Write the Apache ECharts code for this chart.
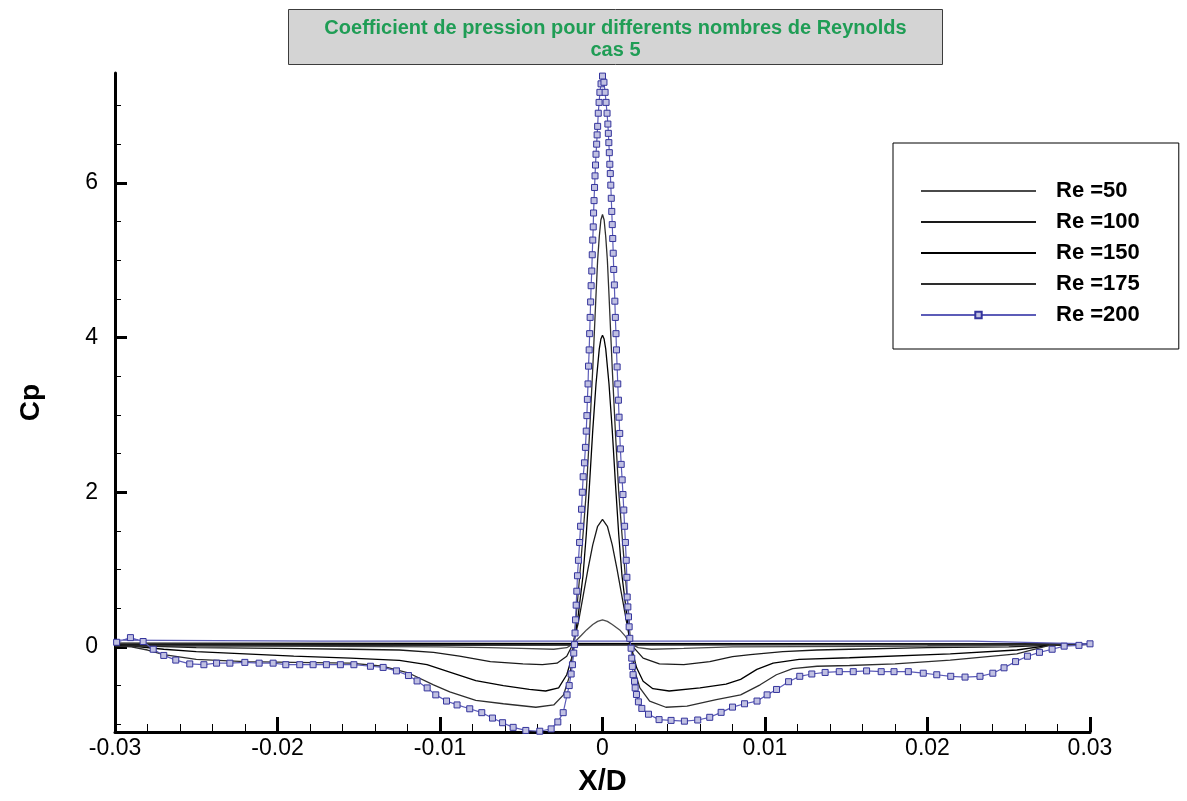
<!DOCTYPE html>
<html>
<head>
<meta charset="utf-8">
<script src="https://cdn.jsdelivr.net/npm/echarts@6/dist/echarts.min.js"></script>
<style>
html,body{margin:0;padding:0;background:#fff;}
#chart{width:1187px;height:801px;}
</style>
</head>
<body>
<div id="chart"></div>
<script>
// ---- tick values ----
const xMajorTicks = [-0.03, -0.02, -0.01, 0, 0.01, 0.02, 0.03];
const xMinorTicks = [-0.028, -0.026, -0.024, -0.022, -0.018, -0.016, -0.014, -0.012, -0.008, -0.006, -0.004, -0.002,
  0.002, 0.004, 0.006, 0.008, 0.012, 0.014, 0.016, 0.018, 0.022, 0.024, 0.026, 0.028];
const yMajorTicks = [0, 2, 4, 6];
const yMinorTicks = [-1, -0.5, 0.5, 1, 1.5, 2.5, 3, 3.5, 4.5, 5, 5.5, 6.5, 7];

// ---- series names ----
const seriesNames = ['Re =50', 'Re =100', 'Re =150', 'Re =175', 'Re =200'];

// ---- Re = 50 : [X/D, Cp] ----
const re50 = [[-0.03,0.02],[-0.02,0.01],[-0.01,0.0],[-0.007,-0.01],[-0.005,-0.02],[-0.003,-0.03],[-0.0022,-0.01],
  [-0.00181,0.04],[-0.0013,0.15],[-0.00098,0.22],[-0.0006,0.29],[-0.0003,0.33],[0,0.35],[0.0003,0.33],[0.0006,0.29],
  [0.00106,0.22],[0.0014,0.14],[0.00172,0.04],[0.0022,-0.01],[0.003,-0.03],[0.005,-0.02],[0.008,0.0],[0.02,0.01],[0.03,0.03],
  [-0.03,0.02]];

// ---- Re = 100 ----
const re100 = [[-0.03,0.03],[-0.028,0.01],[-0.025,-0.01],[-0.02,-0.02],[-0.0155,-0.03],[-0.0125,-0.04],[-0.0104,-0.07],
  [-0.0088,-0.12],[-0.0069,-0.19],[-0.0049,-0.22],[-0.0037,-0.23],[-0.0028,-0.21],[-0.0022,-0.12],[-0.00181,0.04],
  [-0.0015,0.3],[-0.0012,0.65],[-0.0009,1.0],[-0.0006,1.32],[-0.0003,1.56],[0,1.65],[0.0003,1.56],[0.0006,1.32],
  [0.0009,1.0],[0.0012,0.65],[0.0015,0.3],[0.00172,0.04],[0.0025,-0.145],[0.0035,-0.22],[0.005,-0.23],[0.0066,-0.19],
  [0.008,-0.125],[0.0091,-0.10],[0.0111,-0.06],[0.0132,-0.04],[0.0152,-0.03],[0.02,-0.01],[0.025,0.0],[0.03,0.04],
  [-0.03,0.03]];

// ---- Re = 150 ----
const re150 = [[-0.03,0.02],[-0.0285,0.0],[-0.027,-0.03],[-0.025,-0.06],[-0.022,-0.09],[-0.019,-0.12],[-0.0155,-0.145],
  [-0.0125,-0.175],[-0.0108,-0.23],[-0.0094,-0.325],[-0.0078,-0.435],[-0.0061,-0.50],[-0.0045,-0.55],[-0.0035,-0.57],
  [-0.0027,-0.53],[-0.0022,-0.36],[-0.0019,-0.145],[-0.00177,0.04],[-0.0015,0.4],[-0.0012,0.92],[-0.001,1.45],
  [-0.0008,2.1],[-0.0006,2.8],[-0.0004,3.4],[-0.0002,3.85],[-0.0001,3.98],[0,4.03],[0.0001,3.98],[0.0002,3.85],
  [0.0004,3.4],[0.0006,2.8],[0.0008,2.1],[0.001,1.45],[0.0012,0.92],[0.0015,0.4],[0.00172,0.04],[0.0021,-0.27],
  [0.0025,-0.445],[0.0031,-0.54],[0.0041,-0.57],[0.006,-0.53],[0.0076,-0.48],[0.0085,-0.42],[0.0095,-0.29],
  [0.0105,-0.21],[0.0121,-0.16],[0.0152,-0.14],[0.0214,-0.09],[0.0255,-0.04],[0.0275,0.02],[0.03,0.04],
  [-0.03,0.05]];

// ---- Re = 175 ----
const re175 = [[-0.03,0.01],[-0.029,0.0],[-0.028,-0.04],[-0.027,-0.1],[-0.025,-0.16],[-0.022,-0.19],[-0.019,-0.2],
  [-0.0155,-0.21],[-0.0135,-0.25],[-0.0119,-0.34],[-0.0104,-0.49],[-0.0094,-0.58],[-0.0078,-0.69],[-0.0061,-0.735],
  [-0.0041,-0.78],[-0.003,-0.75],[-0.0024,-0.62],[-0.002,-0.36],[-0.00177,0.04],[-0.0016,0.45],[-0.0014,0.92],
  [-0.0012,1.45],[-0.001,2.0],[-0.0008,2.75],[-0.0006,3.6],[-0.0004,4.55],[-0.0003,5.0],[-0.0002,5.3],[-0.0001,5.52],
  [0,5.59],[0.0001,5.52],[0.0002,5.3],[0.0003,5.0],[0.0004,4.55],[0.0006,3.6],[0.0008,2.75],[0.001,2.0],[0.0012,1.45],
  [0.0014,0.92],[0.0016,0.45],[0.00172,0.04],[0.002,-0.32],[0.0023,-0.53],[0.0029,-0.70],[0.0039,-0.78],[0.0052,-0.765],
  [0.007,-0.68],[0.0085,-0.62],[0.0097,-0.49],[0.0107,-0.36],[0.0117,-0.28],[0.0132,-0.25],[0.0152,-0.24],[0.018,-0.22],
  [0.0214,-0.17],[0.0255,-0.09],[0.0275,0.02],[0.03,0.04],
  [-0.03,0.01]];

// ---- Re = 200 (with markers) ----
const re200 = [[-0.0299,0.06],[-0.02905,0.12],[-0.02827,0.07],[-0.02765,-0.03],[-0.027,-0.11],[-0.02626,-0.17],
  [-0.0254,-0.22],[-0.02453,-0.23],[-0.02375,-0.21],[-0.02293,-0.21],[-0.02201,-0.20],[-0.02113,-0.21],[-0.02027,-0.21],
  [-0.01949,-0.23],[-0.01863,-0.23],[-0.01781,-0.23],[-0.01699,-0.23],[-0.01613,-0.23],[-0.0153,-0.23],[-0.01428,-0.25],
  [-0.0135,-0.265],[-0.01268,-0.31],[-0.01194,-0.37],[-0.01141,-0.44],[-0.01079,-0.53],[-0.01026,-0.62],[-0.0096,-0.70],
  [-0.00895,-0.75],[-0.00817,-0.80],[-0.00743,-0.85],[-0.00677,-0.92],[-0.00615,-0.98],[-0.0055,-1.04],[-0.00472,-1.08],
  [-0.00386,-1.09],[-0.00316,-1.06],[-0.00275,-0.97],[-0.00242,-0.85],[-0.00218,-0.62],[-0.00205,-0.50],[-0.00193,-0.35],
  [-0.00185,-0.23],[-0.00177,-0.08],
  [-0.00172,0.03],[-0.00169,0.18],[-0.00166,0.35],[-0.00162,0.54],[-0.00158,0.72],[-0.00154,0.92],[-0.00148,1.12],
  [-0.00141,1.35],[-0.00135,1.56],[-0.00129,1.78],[-0.00124,2.0],[-0.00119,2.2],[-0.00111,2.38],[-0.00105,2.58],
  [-0.001,2.79],[-0.00096,2.99],[-0.00093,3.2],[-0.00089,3.4],[-0.00086,3.63],[-0.00082,3.84],[-0.00079,4.05],
  [-0.00076,4.26],[-0.00073,4.46],[-0.0007,4.67],[-0.00066,4.86],[-0.00063,5.07],[-0.0006,5.26],[-0.00057,5.43],
  [-0.00055,5.61],[-0.00052,5.77],[-0.00049,5.94],[-0.00046,6.09],[-0.00043,6.23],[-0.0004,6.37],[-0.00036,6.5],
  [-0.00033,6.62],[-0.0003,6.73],[-0.00026,6.9],[-0.00021,7.04],[-0.00016,7.17],[-0.00009,7.28],[0,7.38],
  [0.00009,7.3],[0.00016,7.17],[0.00022,7.04],[0.00028,6.9],[0.00033,6.76],[0.00036,6.64],[0.00039,6.52],[0.00042,6.39],
  [0.00045,6.24],[0.00048,6.12],[0.00051,5.97],[0.00054,5.8],[0.00057,5.63],[0.0006,5.46],[0.00063,5.28],[0.00066,5.09],
  [0.00069,4.88],[0.00073,4.68],[0.00076,4.47],[0.00079,4.26],[0.00083,4.05],[0.00086,3.84],[0.0009,3.62],[0.00094,3.4],
  [0.00098,3.19],[0.00102,2.97],[0.00106,2.76],[0.0011,2.56],[0.00115,2.36],[0.00121,2.16],[0.00126,1.97],[0.00131,1.77],
  [0.00136,1.56],[0.00141,1.35],[0.00146,1.12],[0.0015,0.9],[0.00152,0.645],[0.00156,0.517],[0.0016,0.389],
  [0.00164,0.26],[0.00168,0.111],[0.00176,-0.017],[0.0018,-0.145],[0.00184,-0.252],[0.00188,-0.359],[0.00197,-0.445],
  [0.00201,-0.53],[0.00209,-0.615],[0.00221,-0.71],[0.00242,-0.795],[0.00283,-0.87],[0.00348,-0.94],[0.00422,-0.95],
  [0.00504,-0.96],[0.00586,-0.945],[0.0066,-0.91],[0.0073,-0.846],[0.008,-0.778],[0.00874,-0.735],[0.00951,-0.7],
  [0.01013,-0.62],[0.01071,-0.55],[0.01145,-0.45],[0.01214,-0.38],[0.01288,-0.35],[0.0137,-0.33],[0.01457,-0.32],
  [0.01543,-0.32],[0.01625,-0.31],[0.01715,-0.32],[0.01794,-0.32],[0.01882,-0.32],[0.01974,-0.34],[0.02057,-0.36],
  [0.02143,-0.38],[0.02231,-0.39],[0.02323,-0.38],[0.02402,-0.34],[0.02471,-0.27],[0.02542,-0.19],[0.02615,-0.12],
  [0.02689,-0.07],[0.02767,-0.03],[0.02841,0.01],[0.02932,0.02],[0.03,0.04]];
// return path of Re = 200 (no markers)
const re200Return = [[0.0227,0.075],[-0.0174,0.075],[-0.0175,0.088],[-0.03,0.088]];

const blackColors = ['#4a4a4a', '#1a1a1a', '#000000', '#2e2e2e'];
const blackData = [re50, re100, re150, re175];

const FONT = "'Liberation Sans', Arial, sans-serif";

const series = blackData.map((d, i) => ({
  name: seriesNames[i],
  type: 'line',
  data: d,
  symbol: 'none',
  showSymbol: false,
  lineStyle: { color: blackColors[i], width: 1.3 },
  itemStyle: { color: blackColors[i] },
  z: 2 + i
}));
series.push({
  name: seriesNames[4],
  type: 'line',
  data: re200.concat(re200Return.map(p => ({ value: p, symbol: 'none' }))),
  symbol: 'rect',
  symbolSize: 6,
  showSymbol: true,
  showAllSymbol: true,
  lineStyle: { color: '#5c5cb8', width: 1.2 },
  itemStyle: { color: '#c0c0e2', borderColor: '#34349c', borderWidth: 1 },
  z: 10
});

const legendData = seriesNames.map((n, i) => i < 4 ? { name: n, itemStyle: { opacity: 0 } } : { name: n });

const titleStyle = { width: 611, align: 'center', color: '#1f9d55', fontFamily: FONT, fontWeight: 'bold', fontSize: 20, lineHeight: 22 };

const chart = echarts.init(document.getElementById('chart'), null, { renderer: 'canvas' });
chart.setOption({
  animation: false,
  backgroundColor: '#ffffff',
  title: {
    text: '{t|Coefficient de pression pour differents nombres de Reynolds}\n{t|cas 5}',
    left: 288,
    top: 8,
    backgroundColor: '#d4d4d4',
    borderColor: '#3c3c3c',
    borderWidth: 1,
    padding: [9, 22, 5, 22],
    textStyle: { rich: { t: titleStyle } }
  },
  legend: {
    orient: 'vertical',
    left: 893,
    top: 143,
    padding: [36, 39, 22, 27],
    itemWidth: 115,
    itemHeight: 8,
    itemGap: 7,
    selectedMode: false,
    borderColor: '#000',
    borderWidth: 1,
    backgroundColor: '#fff',
    data: legendData,
    textStyle: { color: '#000', fontFamily: FONT, fontWeight: 'bold', fontSize: 22, lineHeight: 24, padding: [0, 0, 0, 15] }
  },
  grid: { left: 115, right: 97, top: 73, bottom: 64, containLabel: false },
  xAxis: [{
    type: 'value', min: -0.03, max: 0.03, position: 'bottom',
    axisLine: { show: true, onZero: false, lineStyle: { color: '#000', width: 3 } },
    axisTick: { show: true, inside: true, length: 15, customValues: xMajorTicks, lineStyle: { color: '#000', width: 3 } },
    axisLabel: { show: true, customValues: xMajorTicks, color: '#000', fontFamily: FONT, fontSize: 23, margin: 5 },
    splitLine: { show: false },
    name: 'X/D', nameLocation: 'middle', nameGap: 35,
    nameTextStyle: { color: '#000', fontFamily: FONT, fontWeight: 'bold', fontSize: 29 }
  }, {
    type: 'value', min: -0.03, max: 0.03, position: 'bottom',
    axisLine: { show: false, onZero: false },
    axisTick: { show: true, inside: true, length: 8, customValues: xMinorTicks, lineStyle: { color: '#000', width: 1 } },
    axisLabel: { show: false },
    splitLine: { show: false }
  }],
  yAxis: [{
    type: 'value', min: -1.1, max: 7.42, position: 'left',
    axisLine: { show: true, onZero: false, lineStyle: { color: '#000', width: 3 } },
    axisTick: { show: true, inside: true, length: 12, customValues: yMajorTicks, lineStyle: { color: '#000', width: 3 } },
    axisLabel: { show: true, customValues: yMajorTicks, color: '#000', fontFamily: FONT, fontSize: 23, margin: 17 },
    splitLine: { show: false },
    name: 'Cp', nameLocation: 'middle', nameGap: 70, nameRotate: 90,
    nameTextStyle: { color: '#000', fontFamily: FONT, fontWeight: 'bold', fontSize: 28 }
  }, {
    type: 'value', min: -1.1, max: 7.42, position: 'left',
    axisLine: { show: false, onZero: false },
    axisTick: { show: true, inside: true, length: 6, customValues: yMinorTicks, lineStyle: { color: '#000', width: 1 } },
    axisLabel: { show: false },
    splitLine: { show: false }
  }],
  series: series
});
</script>
</body>
</html>
